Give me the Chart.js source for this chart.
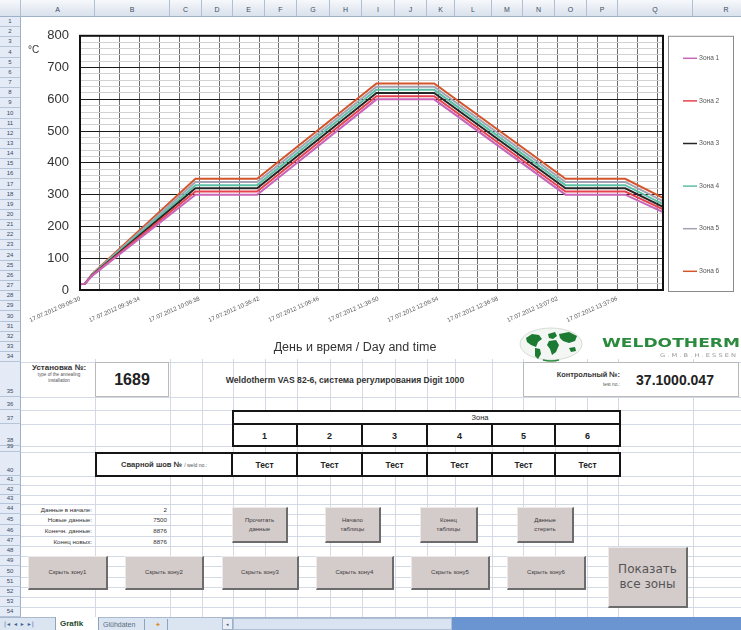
<!DOCTYPE html>
<html lang="ru">
<head>
<meta charset="utf-8">
<title>Grafik</title>
<script src="https://cdn.jsdelivr.net/npm/chart.js@4.4.1/dist/chart.umd.min.js"></script>
<style>
  html,body{margin:0;padding:0;}
  body{width:741px;height:630px;overflow:hidden;background:#fff;position:relative;font-family:"Liberation Sans",Arial,sans-serif;color:#222;}
  .a{position:absolute;box-sizing:border-box;}
  .gv{position:absolute;width:1px;background:#d3dae5;}
  .gh{position:absolute;height:1px;background:#d3dae5;}
  .colh{position:absolute;top:0;height:17px;background:linear-gradient(#f6f8fb,#d9e1ec);border-right:1px solid #b0bfd3;border-bottom:1px solid #9fb1c9;font-size:7px;color:#3b4a5e;text-align:center;line-height:20px;box-sizing:border-box;}
  .rowh{position:absolute;left:0;width:21px;background:#e4ebf6;border-bottom:1px solid #b6c4d8;border-right:1px solid #9fb1c9;font-size:6px;color:#3b4a5e;text-align:center;box-sizing:border-box;display:flex;align-items:flex-end;justify-content:center;line-height:7px;padding-bottom:1px;}
  .btn{position:absolute;box-sizing:border-box;background:#d4cbcb;border-top:1px solid #eee9e9;border-left:1px solid #eee9e9;border-right:2px solid #6c6c6c;border-bottom:2px solid #6c6c6c;display:flex;align-items:center;justify-content:center;text-align:center;font-size:6px;line-height:9px;color:#3a3a3a;}
  .box{position:absolute;box-sizing:border-box;border:1px solid #b9b9b9;background:#fff;}
  .bk{position:absolute;background:#151515;}
  .cell{position:absolute;display:flex;align-items:center;justify-content:center;text-align:center;}
</style>
</head>
<body>
<div id="sheet"></div>

<div class="a" style="left:22px;top:17px;width:714px;height:342px;background:#fff;z-index:2">
  <canvas id="chart" width="714" height="342"></canvas>
</div>

<svg class="a" style="left:517px;top:326px;z-index:3" width="224" height="37" viewBox="0 0 224 37">
  <ellipse cx="34" cy="18" rx="31" ry="16" fill="#f3f6f3" stroke="#d5dcd5" stroke-width="1"/>
  <path d="M9 12 L15 8 L22 9 L25 13 L21 16 L19 21 L14 19 L10 16 Z" fill="#1c7a32"/>
  <path d="M18 22 L23 23 L24 28 L21 33 L18 30 Z" fill="#1c7a32"/>
  <path d="M31 8 L38 6 L40 10 L36 13 L32 12 Z" fill="#1c7a32"/>
  <path d="M32 15 L39 14 L42 19 L39 26 L35 29 L33 23 L30 19 Z" fill="#1c7a32"/>
  <path d="M42 8 L52 6 L60 10 L58 15 L52 17 L46 15 L43 12 Z" fill="#1c7a32"/>
  <path d="M52 22 L58 21 L59 25 L54 26 Z" fill="#1c7a32"/>
  <path d="M26 34 Q34 36 42 34" stroke="#2a8a3c" stroke-width="1.5" fill="none"/>
  <text x="85" y="21" textLength="138" lengthAdjust="spacingAndGlyphs" font-family="DejaVu Sans" font-weight="bold" font-size="12" fill="#2b8a3e">WELDOTHERM</text>
  <text x="143" y="31" textLength="76" lengthAdjust="spacingAndGlyphs" font-family="DejaVu Sans" font-size="5" fill="#9a9a9a">G . M . B . H .   E S S E N</text>
</svg>

<div id="front"></div>

<script>
// ---- chart data ----
// minutes elapsed since the first reading
const minutes = [0, 2.5, 6, 58, 89, 149, 178, 244, 274, 293];
// temperature of each zone, °C
const zone1 = [18, 20, 44, 300, 300, 600, 600, 300, 300, 245];
const zone2 = [18, 20, 45, 310, 310, 610, 610, 310, 310, 254];
const zone3 = [18, 20, 46, 320, 320, 620, 620, 320, 320, 262];
const zone4 = [18, 20, 47, 330, 330, 630, 630, 330, 330, 270];
const zone5 = [18, 20, 48, 340, 340, 640, 640, 340, 340, 280];
const zone6 = [18, 20, 50, 350, 350, 650, 650, 350, 350, 290];
const zoneNames = ['Зона 1', 'Зона 2', 'Зона 3', 'Зона 4', 'Зона 5', 'Зона 6'];
const zoneColors = ['#c765b8', '#e5434f', '#262626', '#5cbfa6', '#a3a3b3', '#d4552c'];
// time-axis labels, one every 30 minutes
const tickMinutes = [0, 30, 60, 90, 120, 150, 180, 210, 240, 270];
const tickLabels = ['17.07.2012 09:06:30', '17.07.2012 09:36:34', '17.07.2012 10:06:38', '17.07.2012 10:36:42',
  '17.07.2012 11:06:46', '17.07.2012 11:36:50', '17.07.2012 12:06:54', '17.07.2012 12:36:58',
  '17.07.2012 13:07:02', '17.07.2012 13:37:06'];
const yTicks = [0, 100, 200, 300, 400, 500, 600, 700, 800];

// ---- worksheet data ----
const zoneNumbers = ['1', '2', '3', '4', '5', '6'];
const weldNumbers = ['Тест', 'Тест', 'Тест', 'Тест', 'Тест', 'Тест'];
const infoLabels = ['Данные в начале:', 'Новые данные:', 'Конечн. данные:', 'Конец новых:'];
const infoValues = ['2', '7500', '8876', '8876'];

// ---- worksheet grid ----
const colNames = ['A','B','C','D','E','F','G','H','I','J','K','L','M','N','O','P','Q','R'];
const colEdges = [21, 95, 170, 202, 233, 265, 297, 330, 362, 395, 427, 455, 492, 523, 555, 587, 618, 693, 760];
const rowTops = [];
for (let i = 0; i < 34; i++) rowTops.push(17 + i * 10.15);
rowTops.push(362, 397, 410, 424, 446, 452, 476, 485, 495, 504, 514, 525, 536, 546, 556, 566, 577, 587, 597, 607, 617);

const sheet = document.getElementById('sheet');
function add(parent, cls, style, html) {
  const d = document.createElement('div');
  d.className = cls;
  d.setAttribute('style', style);
  if (html !== undefined) d.innerHTML = html;
  parent.appendChild(d);
  return d;
}
// cell gridlines below the chart object
for (let r = 34; r < rowTops.length; r++) add(sheet, 'gh', `left:21px;top:${Math.round(rowTops[r])}px;width:720px;`);
for (let c = 1; c < colEdges.length - 1; c++) add(sheet, 'gv', `left:${colEdges[c]}px;top:17px;height:600px;`);
// column headers
add(sheet, 'colh', 'left:0;width:21px;');
colNames.forEach((n, i) => add(sheet, 'colh', `left:${colEdges[i]}px;width:${colEdges[i + 1] - colEdges[i]}px;`, n));
// row headers
for (let r = 0; r < 54; r++) {
  const t = rowTops[r], b = rowTops[r + 1];
  add(sheet, 'rowh', `top:${Math.round(t)}px;height:${Math.round(b) - Math.round(t)}px;`, String(r + 1));
}

const front = document.getElementById('front');
// installation block
add(front, 'a', 'left:22px;top:363px;width:74px;text-align:center;font-weight:bold;font-size:8px;line-height:9px;color:#333', 'Установка №:');
add(front, 'a', 'left:22px;top:372px;width:74px;text-align:center;font-size:4.6px;line-height:6px;color:#555', 'type of the annealing<br>installation');
add(front, 'box', 'left:95px;top:362px;width:74px;height:35px;');
add(front, 'cell', 'left:95px;top:362px;width:74px;height:35px;font-weight:bold;font-size:16px;color:#222', '1689');
add(front, 'cell', 'left:170px;top:362px;width:350px;height:35px;font-weight:bold;font-size:8.6px;color:#333', 'Weldotherm VAS 82-6, система регулирования Digit 1000');
add(front, 'box', 'left:523px;top:362px;width:216px;height:35px;');
add(front, 'a', 'left:523px;top:370px;width:97px;text-align:right;font-weight:bold;font-size:7.4px;line-height:9px;color:#333', 'Контрольный №:');
add(front, 'a', 'left:523px;top:382px;width:97px;text-align:right;font-size:4.8px;line-height:6px;color:#555', 'test no.:');
add(front, 'cell', 'left:625px;top:362px;width:100px;height:35px;font-weight:bold;font-size:14px;color:#222', '37.1000.047');

// zone table
const zc = [232, 297, 362, 427, 492, 555, 620];
add(front, 'a', 'left:232px;top:410px;width:389px;height:37px;background:#fff;border:2px solid #151515;');
add(front, 'bk', 'left:232px;top:423px;width:389px;height:2px;');
add(front, 'cell', 'left:460px;top:411px;width:40px;height:12px;font-size:7.5px;color:#222', 'Зона');
zoneNumbers.forEach((n, i) => {
  if (i > 0) add(front, 'bk', `left:${zc[i] - 1}px;top:424px;width:2px;height:22px;`);
  add(front, 'cell', `left:${zc[i]}px;top:425px;width:${zc[i + 1] - zc[i]}px;height:21px;font-weight:bold;font-size:9px;color:#222`, n);
});
add(front, 'a', 'left:95px;top:452px;width:526px;height:25px;background:#fff;border:2px solid #151515;');
add(front, 'cell', 'left:96px;top:453px;width:136px;height:23px;font-size:7.6px;color:#333;white-space:nowrap', '<b>Сварной шов №</b>&nbsp;<span style="font-size:5px;color:#555">/ weld no.:</span>');
weldNumbers.forEach((n, i) => {
  add(front, 'bk', `left:${zc[i] - 1}px;top:452px;width:2px;height:25px;`);
  add(front, 'cell', `left:${zc[i]}px;top:453px;width:${zc[i + 1] - zc[i]}px;height:23px;font-weight:bold;font-size:8.4px;color:#222`, n);
});

// data counters
infoLabels.forEach((t, i) => {
  const top = [504, 514, 525, 536][i];
  add(front, 'a', `left:22px;top:${top + 1}px;width:70px;text-align:right;font-size:6.2px;line-height:9px;color:#333;white-space:nowrap`, t);
  add(front, 'a', `left:96px;top:${top + 1}px;width:71px;text-align:right;font-size:6.2px;line-height:9px;color:#333`, infoValues[i]);
});

// control buttons
const buttons = [
  [232, 507, 56, 36, 'Прочитать<br>данные'],
  [325, 507, 56, 36, 'Начало<br>таблицы'],
  [420, 507, 58, 36, 'Конец<br>таблицы'],
  [517, 507, 57, 36, 'Данные<br>стереть'],
  [28, 556, 80, 34, 'Скрыть зону1'],
  [125, 556, 79, 34, 'Скрыть зону2'],
  [222, 556, 77, 34, 'Скрыть зону3'],
  [316, 556, 78, 34, 'Скрыть зону4'],
  [411, 556, 79, 34, 'Скрыть зону5'],
  [507, 556, 79, 34, 'Скрыть зону6']
];
buttons.forEach(b => add(front, 'btn', `left:${b[0]}px;top:${b[1]}px;width:${b[2]}px;height:${b[3]}px;`, b[4]));
add(front, 'btn', 'left:608px;top:547px;width:80px;height:61px;font-size:12px;line-height:15px;color:#555;font-family:"DejaVu Sans",sans-serif', 'Показать<br>все зоны');

// sheet tabs and scroll bar
add(front, 'a', 'left:0;top:617px;width:741px;height:13px;background:#dbe5f2;border-top:1px solid #a8b8cf;');
add(front, 'a', 'left:4px;top:618px;width:50px;height:12px;font-size:6px;line-height:12px;color:#3f5f8f;letter-spacing:1px;font-family:"DejaVu Sans",sans-serif', '|◂ ◂ ▸ ▸|');
add(front, 'a', 'left:55px;top:617px;width:44px;height:13px;background:#fff;border-left:1px solid #8ea3c0;border-right:1px solid #8ea3c0;');
add(front, 'a', 'left:60px;top:618px;width:36px;height:12px;font-size:8px;line-height:12px;font-weight:bold;color:#234a2b', 'Grafik');
add(front, 'a', 'left:101px;top:619px;width:44px;height:11px;border-right:1px solid #8ea3c0;font-size:7px;line-height:11px;color:#5a6a80;padding-left:2px', 'Glühdaten');
add(front, 'a', 'left:148px;top:619px;width:20px;height:11px;border-right:1px solid #8ea3c0;font-size:7px;line-height:11px;color:#e0902a;text-align:center', '✦');
add(front, 'a', 'left:222px;top:618px;width:11px;height:12px;background:#e9eef6;border:1px solid #9fb1c9;font-size:5px;line-height:10px;text-align:center;color:#3f5f8f', '◂');
add(front, 'a', 'left:233px;top:618px;width:219px;height:12px;background:#d9e3f1;border:1px solid #aebfd6;');
add(front, 'a', 'left:452px;top:617px;width:289px;height:13px;background:#6a95d0;');

// ---- chart ----
const zones = [zone1, zone2, zone3, zone4, zone5, zone6];

const frameAndLegend = {
  id: 'frameAndLegend',
  afterDraw(chart) {
    const { ctx, chartArea: a } = chart;
    ctx.save();
    // plot frame
    ctx.strokeStyle = '#111';
    ctx.lineWidth = 2;
    ctx.strokeRect(a.left, a.top, a.right - a.left, a.bottom - a.top);
    // legend box
    ctx.lineWidth = 1;
    ctx.strokeStyle = '#8a8a8a';
    ctx.strokeRect(a.right + 5.5, a.top + 0.5, 65, a.bottom - a.top + 1);
    ctx.font = '6.5px "Liberation Sans", Arial, sans-serif';
    ctx.textBaseline = 'middle';
    chart.data.datasets.forEach((ds, i) => {
      const y = a.top + 22.5 + i * 42.6;
      ctx.strokeStyle = ds.borderColor;
      ctx.lineWidth = 1.5;
      ctx.beginPath();
      ctx.moveTo(a.right + 20, y);
      ctx.lineTo(a.right + 34, y);
      ctx.stroke();
      ctx.fillStyle = '#555';
      ctx.fillText(ds.label, a.right + 36, y);
    });
    // unit and axis caption
    ctx.fillStyle = '#333';
    ctx.font = '10px "Liberation Sans", Arial, sans-serif';
    ctx.fillText('°C', 6, 33);
    ctx.font = '12.5px "Liberation Sans", Arial, sans-serif';
    ctx.textAlign = 'center';
    ctx.fillText('День и время / Day and time', 333, 331);
    ctx.restore();
  }
};

new Chart(document.getElementById('chart'), {
  type: 'line',
  data: {
    datasets: zones.map((z, i) => ({
      label: zoneNames[i],
      data: minutes.map((m, k) => ({ x: m, y: z[k] })),
      borderColor: zoneColors[i],
      backgroundColor: zoneColors[i],
      borderWidth: 2,
      pointRadius: 0,
      tension: 0,
      fill: false
    }))
  },
  options: {
    responsive: false,
    animation: false,
    layout: { padding: { left: 0, top: 18, right: 73, bottom: 0 } },
    plugins: { legend: { display: false }, tooltip: { enabled: false } },
    scales: {
      x: {
        type: 'linear',
        min: 0,
        max: 293,
        afterFit(s) { s.height = 69; },
        border: { display: true, color: '#111', width: 2 },
        grid: { color: '#6e6e6e', lineWidth: 1, drawTicks: false },
        ticks: {
          stepSize: 10,
          includeBounds: false,
          autoSkip: false,
          minRotation: 24,
          maxRotation: 24,
          padding: 5,
          color: '#555',
          font: { size: 6, family: '"Liberation Sans", Arial, sans-serif' },
          callback(v) {
            const k = tickMinutes.indexOf(v);
            return k >= 0 ? tickLabels[k] : '';
          }
        }
      },
      y: {
        min: 0,
        max: 800,
        afterFit(s) { s.width = 58; },
        border: { display: true, color: '#111', width: 2 },
        grid: {
          drawTicks: false,
          color: c => (yTicks.includes(c.tick.value) ? '#1a1a1a' : '#d2d2d2'),
          lineWidth: 1
        },
        ticks: {
          stepSize: 20,
          autoSkip: false,
          padding: 11,
          color: '#333',
          font: { size: 13, family: '"Liberation Sans", Arial, sans-serif' },
          callback(v) { return yTicks.includes(v) ? String(v) : ''; }
        }
      }
    }
  },
  plugins: [frameAndLegend]
});
</script>
</body>
</html>
